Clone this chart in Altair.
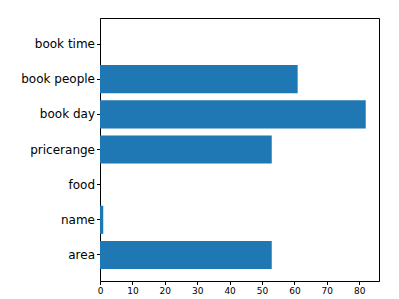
import altair as alt
import pandas as pd

categories = ["area", "name", "food", "pricerange", "book day", "book people", "book time"]
values = [53, 1, 0, 53, 82, 61, 0]

df = pd.DataFrame({"slot": categories, "count": values})
order = list(reversed(categories))

chart = alt.Chart(df).mark_bar(color="#1f77b4").encode(
    x=alt.X("count:Q",
            scale=alt.Scale(domain=[0, 86.1], nice=False, zero=True),
            axis=alt.Axis(values=[0, 10, 20, 30, 40, 50, 60, 70, 80], title=None, grid=False,
                          labelFontSize=9, tickSize=3.5, labelPadding=2, domainColor="black",
                          tickColor="black", labelColor="black", labelFont="DejaVu Sans",
                          labelFlush=False)),
    y=alt.Y("slot:N", sort=order,
            scale=alt.Scale(paddingInner=0.2, paddingOuter=0.34),
            axis=alt.Axis(title=None, grid=False, labelFontSize=12, tickSize=3.5, labelPadding=2,
                          domainColor="black", tickColor="black", labelColor="black",
                          labelFont="DejaVu Sans")),
).properties(
    width=279, height=263,
    autosize=alt.AutoSizeParams(type="none"),
    padding={"left": 92, "top": 10, "right": 10, "bottom": 20},
).configure_view(stroke="black", strokeWidth=1)

chart.save("out.html", embed_options={"renderer": "svg", "actions": False})
